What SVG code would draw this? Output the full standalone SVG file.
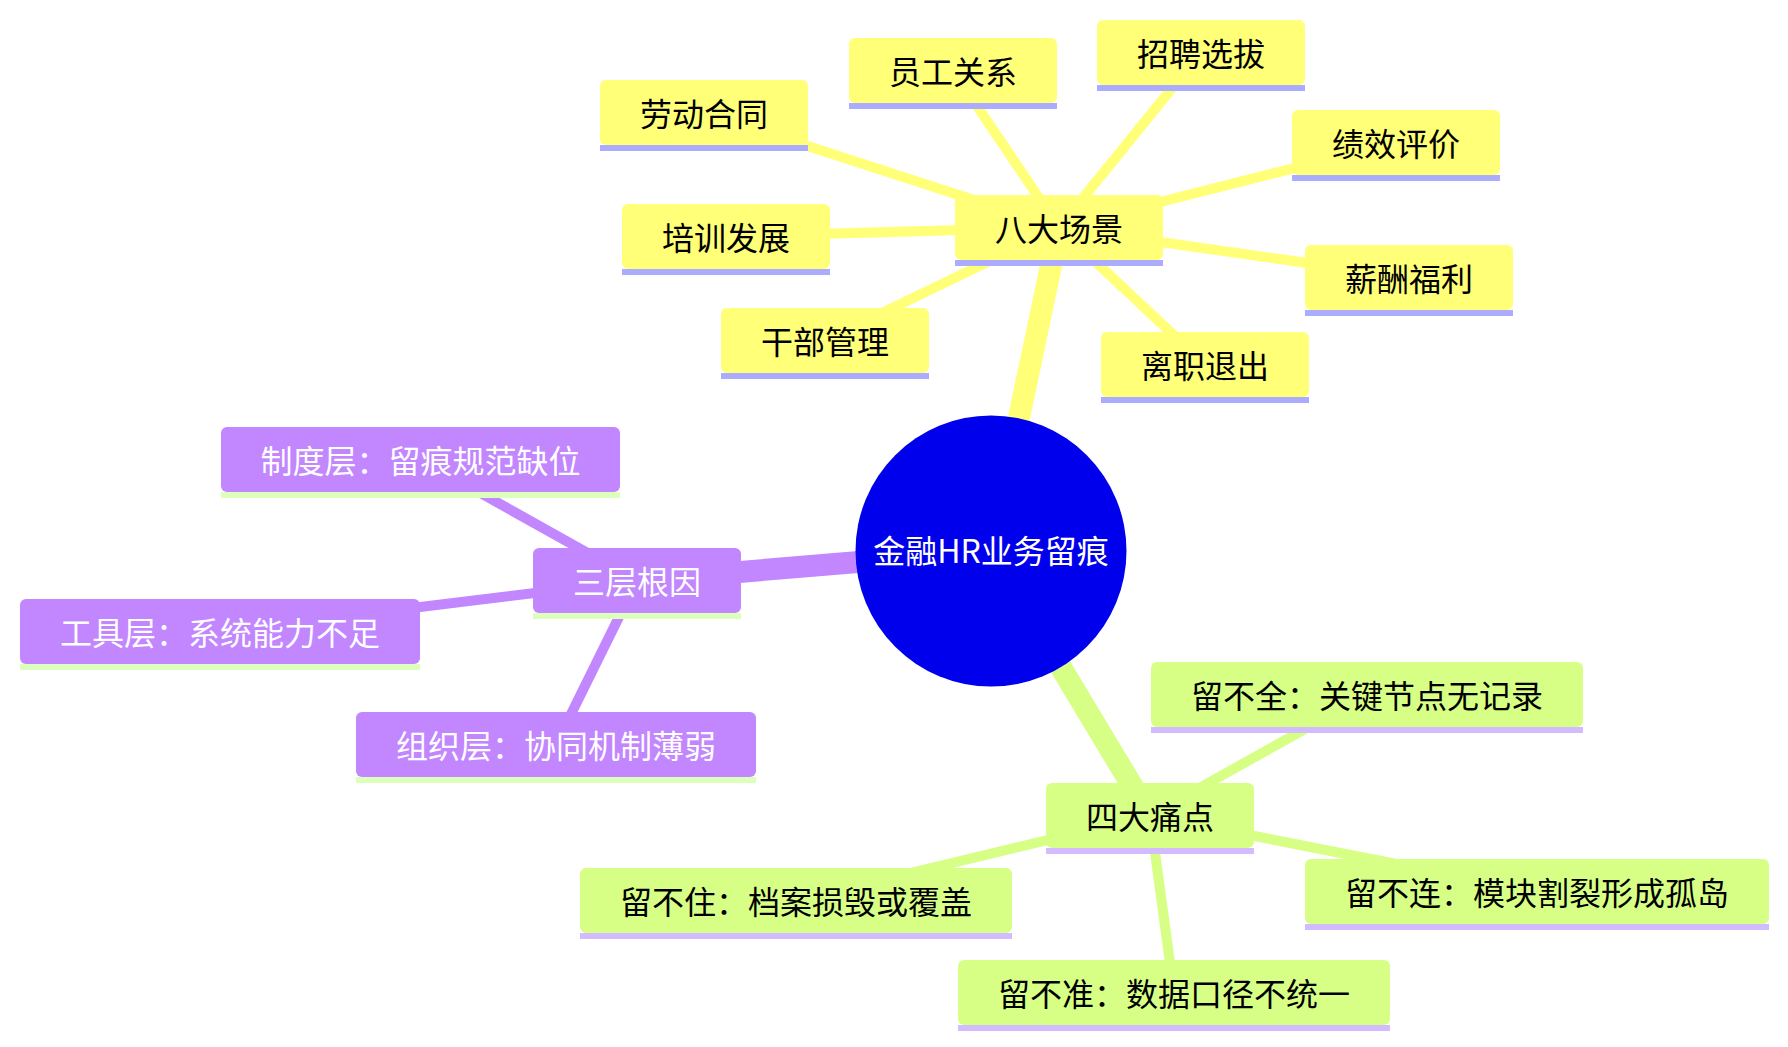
<svg xmlns="http://www.w3.org/2000/svg" width="1788" height="1047" viewBox="0 0 1788 1047">
<style>
text{font-family:"Noto Sans CJK SC","Noto Sans",sans-serif;font-size:32px;text-anchor:middle}
.e0{stroke:#ffff78}.e1{stroke:#d7ff86}.e2{stroke:#c286ff}
.d0{stroke-width:22;stroke-linecap:butt}.d1{stroke-width:10;stroke-linecap:butt}
.n0 rect.b{fill:#ffff78}.n0 rect.s{fill:#acacff}.n0 text{fill:#000}
.n1 rect.b{fill:#d7ff86}.n1 rect.s{fill:#d2bcff}.n1 text{fill:#000}
.n2 rect.b{fill:#c286ff}.n2 rect.s{fill:#ddffbc}.n2 text{fill:#fff}
</style>
<rect width="1788" height="1047" fill="#fff"/>
<g id="connectors">
<line class="e0 d0" x1="991" y1="551" x2="1059" y2="227.5"/>
<line class="e2 d0" x1="991" y1="551" x2="637" y2="580.5"/>
<line class="e1 d0" x1="991" y1="551" x2="1150" y2="815.5"/>
<line class="e0 d1" x1="1059" y1="227.5" x2="953" y2="70.5"/>
<line class="e0 d1" x1="1059" y1="227.5" x2="1201" y2="52.5"/>
<line class="e0 d1" x1="1059" y1="227.5" x2="704" y2="112.5"/>
<line class="e0 d1" x1="1059" y1="227.5" x2="1396" y2="142.5"/>
<line class="e0 d1" x1="1059" y1="227.5" x2="726" y2="236.5"/>
<line class="e0 d1" x1="1059" y1="227.5" x2="1409" y2="277.5"/>
<line class="e0 d1" x1="1059" y1="227.5" x2="825" y2="340.5"/>
<line class="e0 d1" x1="1059" y1="227.5" x2="1205" y2="364.5"/>
<line class="e2 d1" x1="637" y1="580.5" x2="420.5" y2="459.5"/>
<line class="e2 d1" x1="637" y1="580.5" x2="220" y2="631.5"/>
<line class="e2 d1" x1="637" y1="580.5" x2="556" y2="744.5"/>
<line class="e1 d1" x1="1150" y1="815.5" x2="1367" y2="694.5"/>
<line class="e1 d1" x1="1150" y1="815.5" x2="796" y2="900.5"/>
<line class="e1 d1" x1="1150" y1="815.5" x2="1537" y2="891.5"/>
<line class="e1 d1" x1="1150" y1="815.5" x2="1174" y2="992.5"/>
</g>
<g id="root">
<circle cx="991" cy="551" r="135.5" fill="#0000ec"/>
<text x="991" y="563" fill="#fff">金融HR业务留痕</text>
</g>
<g id="n-bdcj" class="n0"><rect class="b" x="955" y="195" width="208" height="65" rx="6"/><rect class="s" x="955" y="260" width="208" height="6"/><text x="1059" y="240.5">八大场景</text></g>
<g id="n-ygxg" class="n0"><rect class="b" x="849" y="38" width="208" height="65" rx="6"/><rect class="s" x="849" y="103" width="208" height="6"/><text x="953" y="83.5">员工关系</text></g>
<g id="n-zpxb" class="n0"><rect class="b" x="1097" y="20" width="208" height="65" rx="6"/><rect class="s" x="1097" y="85" width="208" height="6"/><text x="1201" y="65.5">招聘选拔</text></g>
<g id="n-ldht" class="n0"><rect class="b" x="600" y="80" width="208" height="65" rx="6"/><rect class="s" x="600" y="145" width="208" height="6"/><text x="704" y="125.5">劳动合同</text></g>
<g id="n-jxpj" class="n0"><rect class="b" x="1292" y="110" width="208" height="65" rx="6"/><rect class="s" x="1292" y="175" width="208" height="6"/><text x="1396" y="155.5">绩效评价</text></g>
<g id="n-pxfz" class="n0"><rect class="b" x="622" y="204" width="208" height="65" rx="6"/><rect class="s" x="622" y="269" width="208" height="6"/><text x="726" y="249.5">培训发展</text></g>
<g id="n-xcfl" class="n0"><rect class="b" x="1305" y="245" width="208" height="65" rx="6"/><rect class="s" x="1305" y="310" width="208" height="6"/><text x="1409" y="290.5">薪酬福利</text></g>
<g id="n-gbgl" class="n0"><rect class="b" x="721" y="308" width="208" height="65" rx="6"/><rect class="s" x="721" y="373" width="208" height="6"/><text x="825" y="353.5">干部管理</text></g>
<g id="n-lztc" class="n0"><rect class="b" x="1101" y="332" width="208" height="65" rx="6"/><rect class="s" x="1101" y="397" width="208" height="6"/><text x="1205" y="377.5">离职退出</text></g>
<g id="n-scgy" class="n2"><rect class="b" x="533" y="548" width="208" height="65" rx="6"/><rect class="s" x="533" y="613" width="208" height="6"/><text x="637" y="593.5">三层根因</text></g>
<g id="n-zdc" class="n2"><rect class="b" x="221" y="427" width="399" height="65" rx="6"/><rect class="s" x="221" y="492" width="399" height="6"/><text x="420.5" y="472.5">制度层：留痕规范缺位</text></g>
<g id="n-gjc" class="n2"><rect class="b" x="20" y="599" width="400" height="65" rx="6"/><rect class="s" x="20" y="664" width="400" height="6"/><text x="220" y="644.5">工具层：系统能力不足</text></g>
<g id="n-zzc" class="n2"><rect class="b" x="356" y="712" width="400" height="65" rx="6"/><rect class="s" x="356" y="777" width="400" height="6"/><text x="556" y="757.5">组织层：协同机制薄弱</text></g>
<g id="n-sdtd" class="n1"><rect class="b" x="1046" y="783" width="208" height="65" rx="6"/><rect class="s" x="1046" y="848" width="208" height="6"/><text x="1150" y="828.5">四大痛点</text></g>
<g id="n-lbq" class="n1"><rect class="b" x="1151" y="662" width="432" height="65" rx="6"/><rect class="s" x="1151" y="727" width="432" height="6"/><text x="1367" y="707.5">留不全：关键节点无记录</text></g>
<g id="n-lbz" class="n1"><rect class="b" x="580" y="868" width="432" height="65" rx="6"/><rect class="s" x="580" y="933" width="432" height="6"/><text x="796" y="913.5">留不住：档案损毁或覆盖</text></g>
<g id="n-lbl" class="n1"><rect class="b" x="1305" y="859" width="464" height="65" rx="6"/><rect class="s" x="1305" y="924" width="464" height="6"/><text x="1537" y="904.5">留不连：模块割裂形成孤岛</text></g>
<g id="n-lbzh" class="n1"><rect class="b" x="958" y="960" width="432" height="65" rx="6"/><rect class="s" x="958" y="1025" width="432" height="6"/><text x="1174" y="1005.5">留不准：数据口径不统一</text></g>
</svg>
